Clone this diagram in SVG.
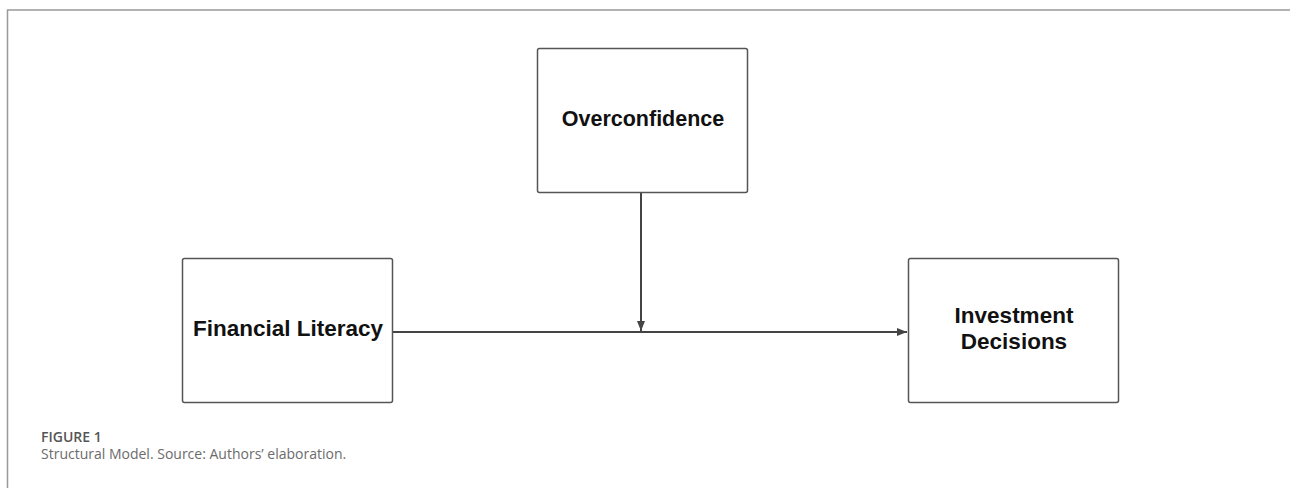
<svg xmlns="http://www.w3.org/2000/svg" width="1290" height="488" viewBox="0 0 1290 488">
<style>
.box{fill:#fff;stroke:#555;stroke-width:1.5}
.lbl{font-family:"Liberation Sans",Arial,sans-serif;font-weight:bold;font-size:22.5px;fill:#111;text-anchor:middle}
.conn{stroke:#444;stroke-width:2;fill:none}
.cap{font-family:"Open Sans",sans-serif}
</style>
<defs>
<marker id="ah" viewBox="0 0 10 10" refX="10" refY="5" markerWidth="5" markerHeight="5" orient="auto" markerUnits="strokeWidth">
<path d="M0,1 L10,5 L0,9 z" fill="#444"/>
</marker>
</defs>
<rect width="1290" height="488" fill="#fff"/>
<path d="M7.5,488 V10 H1290" fill="none" stroke="#999" stroke-width="1.5"/>
<g id="connectors">
<line class="conn" x1="392" y1="332" x2="907" y2="332" marker-end="url(#ah)"/>
<line class="conn" x1="641" y1="193" x2="641" y2="331" marker-end="url(#ah)"/>
</g>
<g id="overconfidence">
<rect class="box" x="537.5" y="48.5" width="210" height="144" rx="2"/>
<text class="lbl" x="643" y="126" style="font-size:21.5px">Overconfidence</text>
</g>
<g id="financial-literacy">
<rect class="box" x="182.5" y="258.5" width="210" height="144" rx="2"/>
<text class="lbl" x="288" y="336">Financial Literacy</text>
</g>
<g id="investment-decisions">
<rect class="box" x="908.5" y="258.5" width="210" height="144" rx="2"/>
<text class="lbl" x="1014" y="323">Investment</text>
<text class="lbl" x="1014" y="349">Decisions</text>
</g>
<text class="cap" x="41" y="442" font-size="14" font-weight="600" fill="#555">FIGURE 1</text>
<text class="cap" x="41" y="459" font-size="14" fill="#6b6b6b">Structural Model. Source: Authors’ elaboration.</text>
</svg>
